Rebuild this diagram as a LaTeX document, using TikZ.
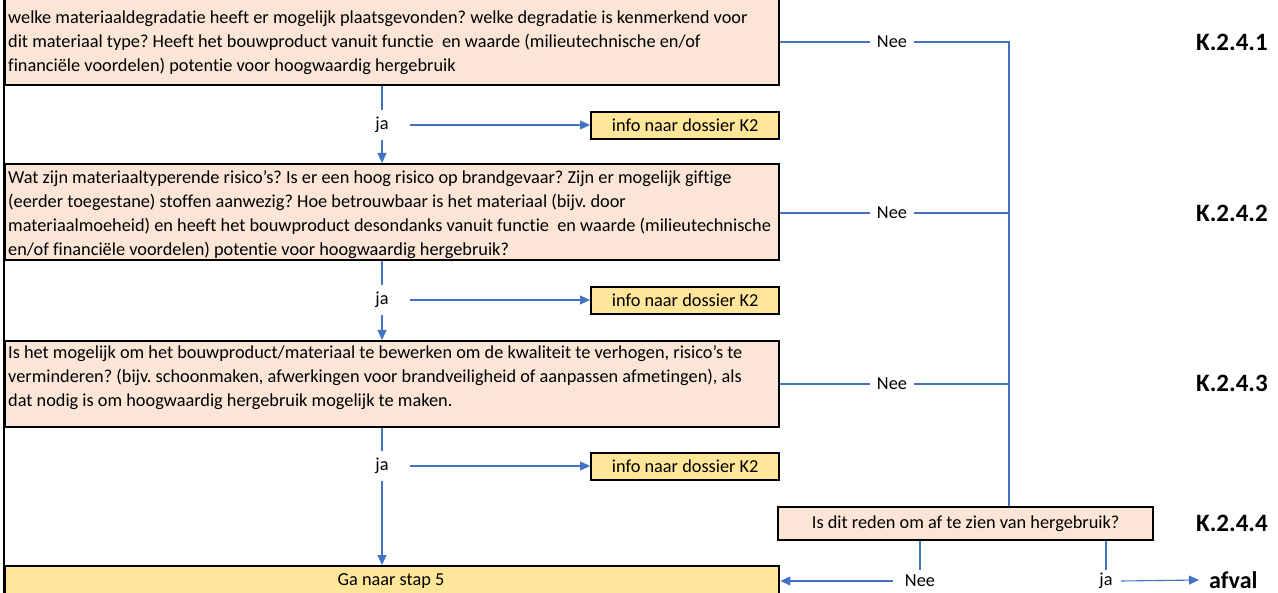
\documentclass[tikz,border=0pt]{standalone}
\usepackage{fontspec}
\setmainfont{Carlito}[Ligatures=NoCommon]
\usetikzlibrary{arrows.meta}
\definecolor{peach}{HTML}{FBE5D6}
\definecolor{gold}{HTML}{FFE699}
\definecolor{flowblue}{HTML}{4472C4}
\begin{document}
\frenchspacing
\begin{tikzpicture}[x=1pt,y=-1pt,
  qbox/.style={draw=black,line width=2.4pt,fill=peach,inner sep=0pt,anchor=north west},
  ibox/.style={draw=black,line width=2.4pt,fill=gold,inner sep=0pt,anchor=north west,minimum width=188pt,minimum height=27pt,font=\fontsize{18.3}{22}\selectfont},
  txt/.style={anchor=west,align=left,inner sep=0pt,font=\fontsize{18.3}{24}\selectfont},
  lbl/.style={inner sep=0pt,font=\fontsize{18.3}{22}\selectfont},
  klabel/.style={anchor=east,inner sep=0pt,font=\bfseries\fontsize{25}{30}\selectfont},
  flow/.style={draw=flowblue,line width=1.1pt},
  arr/.style={flow,-{Triangle[length=10pt,width=9pt]}}]
\useasboundingbox (0,0) rectangle (1278,593);
\fill[white] (0,0) rectangle (1278,593);
% question boxes
\node[qbox,minimum width=774pt,minimum height=86pt] (b1) at (4,-2) {};
\node[qbox,minimum width=774pt,minimum height=96pt] (b2) at (4,163) {};
\node[qbox,minimum width=774pt,minimum height=86pt] (b3) at (4,340) {};
\node[qbox,fill=gold,minimum width=774pt,minimum height=40pt] (b5) at (4,565) {};
\node[lbl] (t5) at (391,581) {Ga naar stap 5};
\draw[line width=2.4pt] (4,-5) -- (4,600);
\node[txt] (t1) at (8,42.5) {welke materiaaldegradatie heeft er mogelijk plaatsgevonden? welke degradatie is kenmerkend voor\\
dit materiaal type? Heeft het bouwproduct vanuit functie\ \ en waarde (milieutechnische en/of\\
financiële voordelen) potentie voor hoogwaardig hergebruik};
\node[txt] (t2) at (8,214.5) {Wat zijn materiaaltyperende risico’s? Is er een hoog risico op brandgevaar? Zijn er mogelijk giftige\\
(eerder toegestane) stoffen aanwezig? Hoe betrouwbaar is het materiaal (bijv. door\\
materiaalmoeheid) en heeft het bouwproduct desondanks vanuit functie\ \ en waarde (milieutechnische\\
en/of financiële voordelen) potentie voor hoogwaardig hergebruik?};
\node[txt] (t3) at (8,378) {Is het mogelijk om het bouwproduct/materiaal te bewerken om de kwaliteit te verhogen, risico’s te\\
verminderen? (bijv. schoonmaken, afwerkingen voor brandveiligheid of aanpassen afmetingen), als\\
dat nodig is om hoogwaardig hergebruik mogelijk te maken.};
% final question
\node[qbox,minimum width=375pt,minimum height=33pt,font=\fontsize{18.3}{22}\selectfont] (b4) at (777,506) {Is dit reden om af te zien van hergebruik?};
% info boxes
\node[ibox] (i1) at (590,111) {info naar dossier K2};
\node[ibox] (i2) at (590,286) {info naar dossier K2};
\node[ibox] (i3) at (590,452) {info naar dossier K2};
% ja labels
\node[lbl,minimum width=56pt,minimum height=29pt] (j1) at (382,125) {ja};
\node[lbl,minimum width=56pt,minimum height=29pt] (j2) at (382,300) {ja};
\node[lbl,minimum width=56pt,minimum height=29pt] (j3) at (382,466) {ja};
\draw[flow] (b1.south -| j1) -- (j1.north);
\draw[arr] (j1.south) -- (b2.north -| j1);
\draw[arr] (j1.east) -- (j1.east -| i1.west);
\draw[flow] (b2.south -| j2) -- (j2.north);
\draw[arr] (j2.south) -- (b3.north -| j2);
\draw[arr] (j2.east) -- (j2.east -| i2.west);
\draw[flow] (b3.south -| j3) -- (j3.north);
\draw[arr] (j3.south) -- (b5.north -| j3);
\draw[arr] (j3.east) -- (j3.east -| i3.west);
% Nee labels
\coordinate (trunk) at (1009,506);
\node[lbl,minimum width=44pt,minimum height=20pt] (n1) at (892,42) {Nee};
\node[lbl,minimum width=44pt,minimum height=20pt] (n2) at (892,213) {Nee};
\node[lbl,minimum width=44pt,minimum height=20pt] (n3) at (892,384) {Nee};
\draw[flow] (n1.west -| b1.east) -- (n1.west);
\draw[flow] (n2.west -| b2.east) -- (n2.west);
\draw[flow] (n3.west -| b3.east) -- (n3.west);
\draw[flow] (n1.east) -| (trunk);
\draw[flow] (n2.east) -- (n2.east -| trunk);
\draw[flow] (n3.east) -- (n3.east -| trunk);
% bottom decisions
\node[lbl,minimum width=54pt,minimum height=22pt] (n4) at (920,581) {Nee};
\node[lbl,minimum width=30pt,minimum height=22pt] (j4) at (1106,581) {ja};
\node[anchor=west,inner xsep=10pt,inner ysep=0pt,font=\bfseries\fontsize{24}{28}\selectfont] (af) at (1199,580) {afval};
\draw[flow] (b4.south -| n4) -- (n4.north);
\draw[arr] (n4.west) -- (n4.west -| b5.east);
\draw[flow] (b4.south -| j4) -- (j4.north);
\draw[arr] (j4.east) -- (af.west);
% K labels
\node[klabel] (k1) at (1268,42) {K.2.4.1};
\node[klabel] (k2) at (1268,213) {K.2.4.2};
\node[klabel] (k3) at (1268,383) {K.2.4.3};
\node[klabel] (k4) at (1268,523) {K.2.4.4};
\end{tikzpicture}
\end{document}
